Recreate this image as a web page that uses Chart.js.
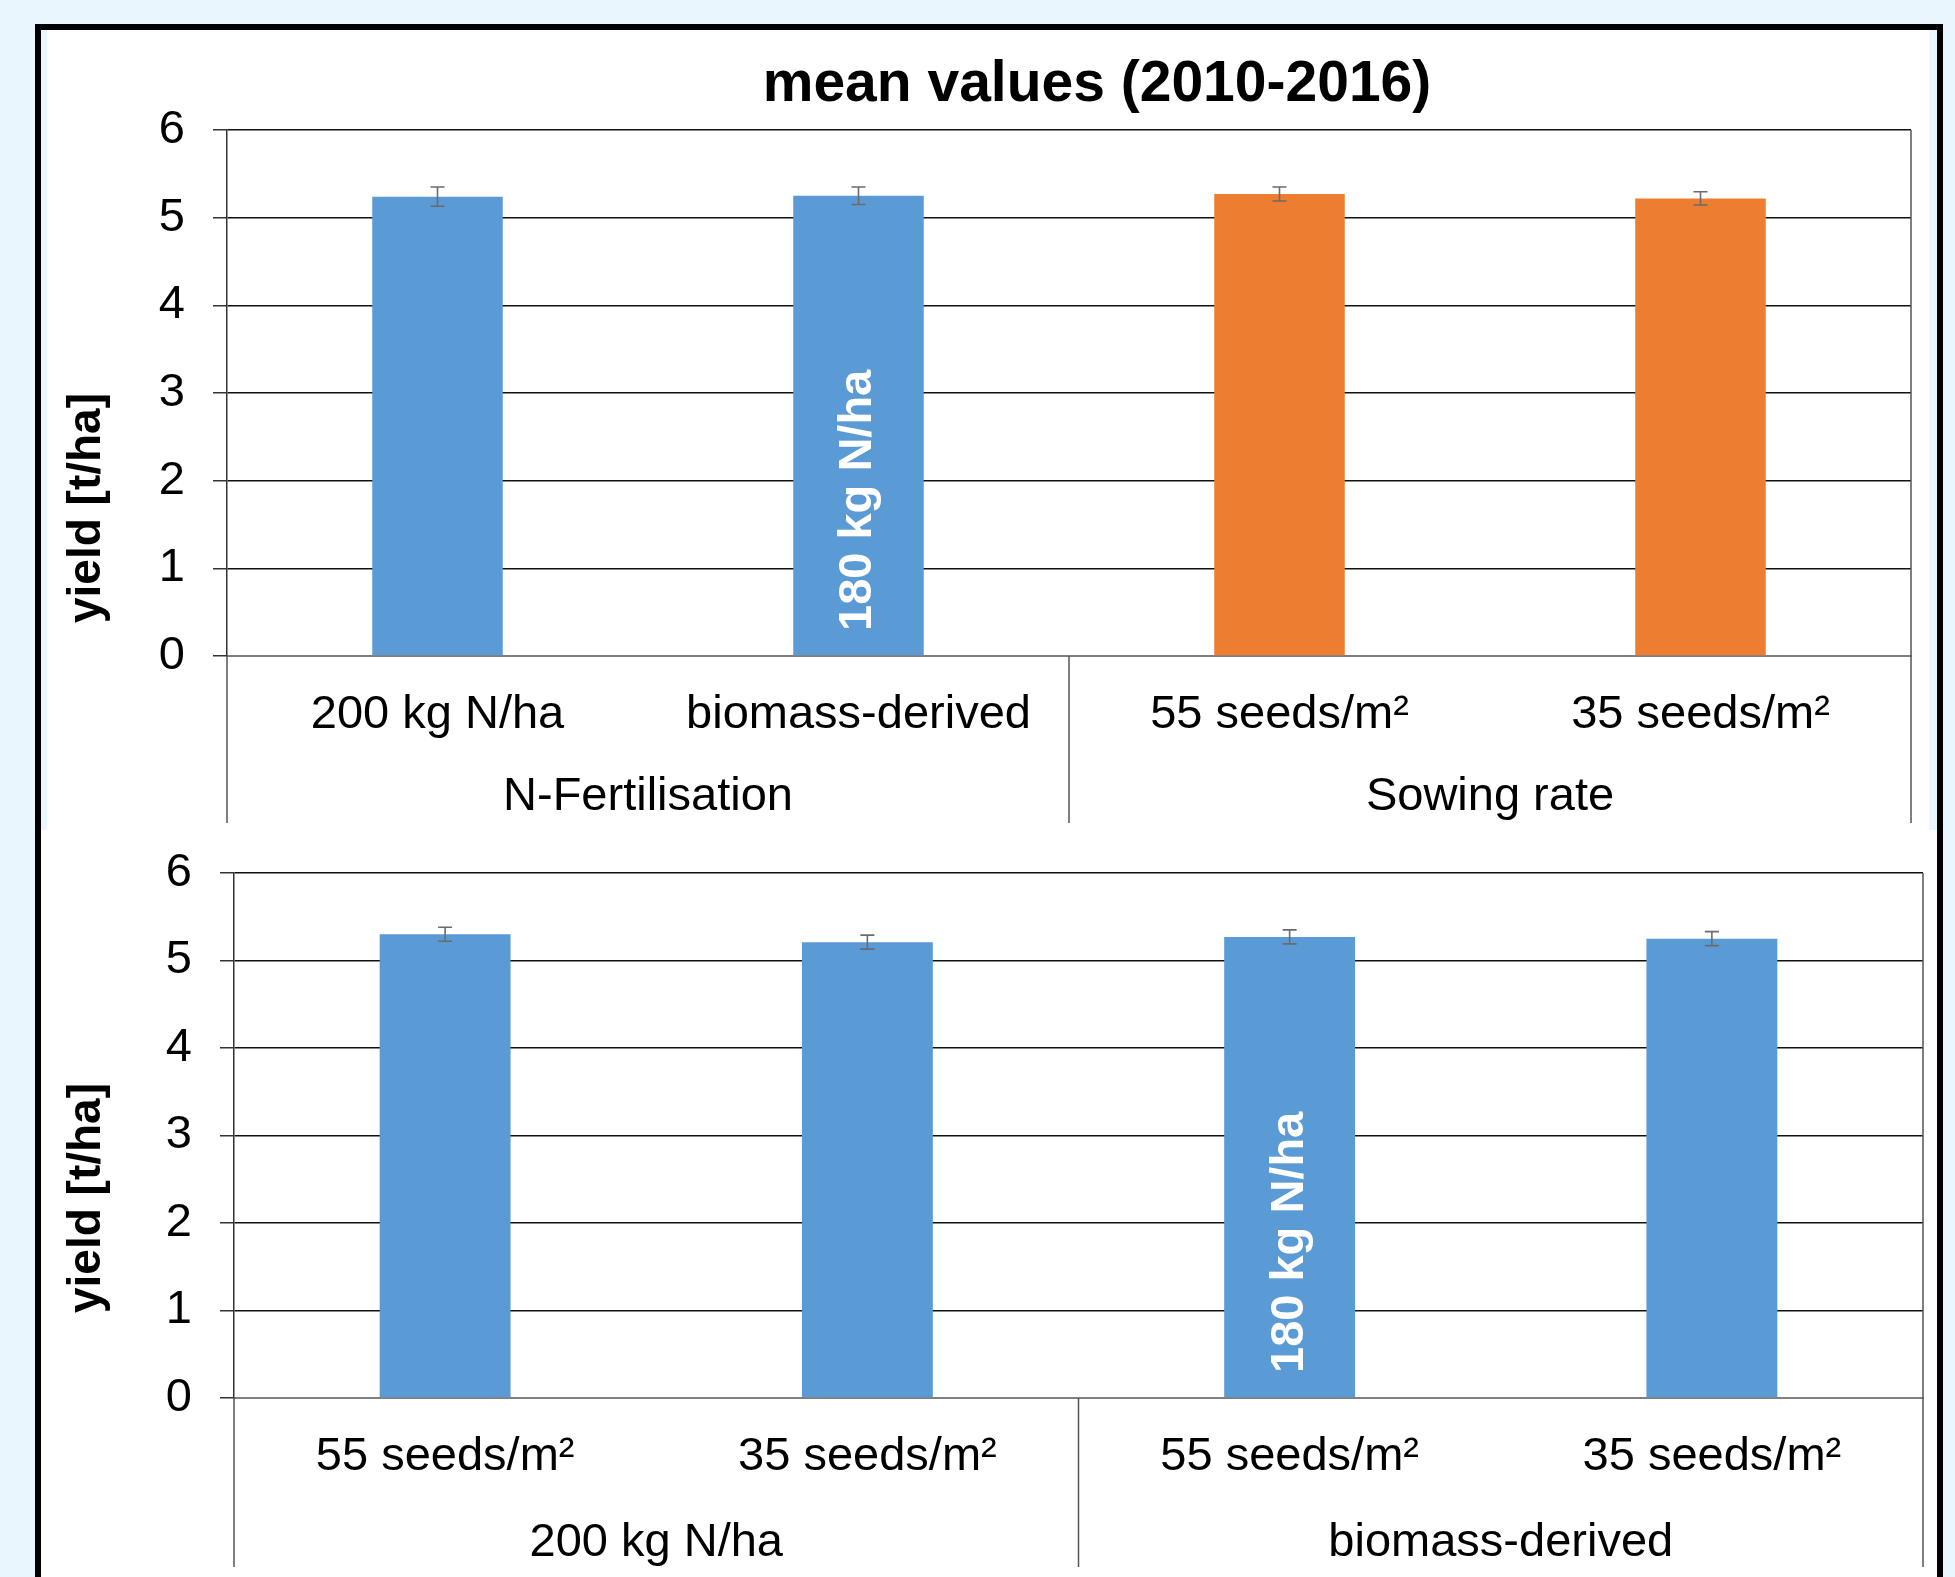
<!DOCTYPE html>
<html>
<head>
<meta charset="utf-8">
<script src="https://cdn.jsdelivr.net/npm/chart.js@4.4.0/dist/chart.umd.min.js"></script>
<style>
  body { margin: 0; width: 1955px; height: 1577px; background: #eaf6fd; position: relative; overflow: hidden; }
  #frame { position: absolute; left: 35px; top: 24px; width: 1908px; height: 1600px; border: 6px solid #000; border-bottom: none; box-sizing: border-box; }
  .panel { position: absolute; background: #fff; }
  .panel canvas { display: block; position: absolute; left: 0; }
  #panelTop { left: 47px; top: 30px; width: 1882px; height: 800px; }
  #panelTop canvas { top: 0; }
  #panelBottom { left: 41px; top: 830px; width: 1896px; height: 747px; }
  #panelBottom canvas { top: -20px; }
</style>
</head>
<body>
<div id="frame"></div>
<div class="panel" id="panelTop"><canvas id="chartTop" width="1882" height="800"></canvas></div>
<div class="panel" id="panelBottom"><canvas id="chartBottom" width="1896" height="767"></canvas></div>

<script>
// ================= DATOS =================
const yTicks = [0, 1, 2, 3, 4, 5, 6];

const topCategories = ['200 kg N/ha', 'biomass-derived', '55 seeds/m²', '35 seeds/m²'];
const topGroups     = ['N-Fertilisation', 'Sowing rate'];
const topYield      = [5.24, 5.25, 5.27, 5.22];
const topError      = [0.11, 0.10, 0.08, 0.075];

const bottomCategories = ['55 seeds/m²', '35 seeds/m²', '55 seeds/m²', '35 seeds/m²'];
const bottomGroups     = ['200 kg N/ha', 'biomass-derived'];
const bottomYield      = [5.30, 5.21, 5.27, 5.25];
const bottomError      = [0.08, 0.08, 0.08, 0.08];

// ================= ESTILO =================
const FONT   = "'Liberation Sans', Arial, Helvetica, sans-serif";
const BLUE   = '#5b9bd5';
const ORANGE = '#ed7d31';

// error bars, separators, group labels, titles
const extrasPlugin = {
    id: 'extras',
    afterDatasetsDraw(chart, args, o) {
        const ctx = chart.ctx;
        const y = chart.scales.y;
        const meta = chart.getDatasetMeta(0);
        const values = chart.data.datasets[0].data;

        ctx.save();
        ctx.strokeStyle = '#6b6b6b';
        ctx.lineWidth = 1.6;
        meta.data.forEach((bar, i) => {
            const yTop = y.getPixelForValue(values[i] + o.errors[i]);
            const yBot = y.getPixelForValue(values[i] - o.errors[i]);
            ctx.beginPath();
            ctx.moveTo(bar.x, yTop);     ctx.lineTo(bar.x, yBot);
            ctx.moveTo(bar.x - 7, yTop); ctx.lineTo(bar.x + 7, yTop);
            ctx.moveTo(bar.x - 7, yBot); ctx.lineTo(bar.x + 7, yBot);
            ctx.stroke();
        });

        // text inside one bar
        const nb = meta.data[o.note.index];
        ctx.translate(nb.x, y.getPixelForValue(0) - 25);
        ctx.rotate(-Math.PI / 2);
        ctx.fillStyle = '#fff';
        ctx.font = 'bold 47px ' + FONT;
        ctx.textAlign = 'left';
        ctx.textBaseline = 'middle';
        ctx.fillText(o.note.text, 0, 0);
        ctx.restore();
    },
    afterDraw(chart, args, o) {
        const ctx = chart.ctx;
        const x = chart.scales.x;
        const a = chart.chartArea;
        const mid = (x.getPixelForTick(1) + x.getPixelForTick(2)) / 2;

        ctx.save();
        ctx.strokeStyle = '#555';
        ctx.lineWidth = 1.5;
        ctx.beginPath();
        ctx.moveTo(a.right, a.top);   ctx.lineTo(a.right, o.sepBottom);
        ctx.moveTo(a.left, a.bottom); ctx.lineTo(a.left, o.sepBottom);
        ctx.moveTo(mid, a.bottom);    ctx.lineTo(mid, o.sepBottom);
        ctx.stroke();

        ctx.fillStyle = '#000';
        ctx.textAlign = 'center';
        ctx.textBaseline = 'middle';
        ctx.font = '47px ' + FONT;
        ctx.fillText(o.groups[0], (a.left + mid) / 2, o.groupY);
        ctx.fillText(o.groups[1], (mid + a.right) / 2, o.groupY);

        if (o.title) {
            ctx.font = 'bold 57px ' + FONT;
            ctx.fillText(o.title, o.titleX, o.titleY);
        }

        ctx.translate(o.yTitleX, o.yTitleY);
        ctx.rotate(-Math.PI / 2);
        ctx.font = 'bold 46px ' + FONT;
        ctx.fillText('yield [t/ha]', 0, 0);
        ctx.restore();
    }
};

function crearGrafica(id, categorias, valores, colores, extras, layout) {
    return new Chart(document.getElementById(id), {
        type: 'bar',
        data: {
            labels: categorias,
            datasets: [{
                data: valores,
                backgroundColor: colores,
                barPercentage: 0.31,
                categoryPercentage: 1
            }]
        },
        options: {
            responsive: false,
            animation: false,
            layout: { padding: { top: layout.top, right: layout.right, left: 0, bottom: 0 } },
            plugins: {
                legend: { display: false },
                tooltip: { enabled: false },
                extras
            },
            scales: {
                x: {
                    grid: { display: false, drawTicks: false },
                    border: { display: true, color: '#7f7f7f', width: 2 },
                    ticks: {
                        color: '#000', font: { family: FONT, size: 47 },
                        padding: 31, maxRotation: 0, autoSkip: false
                    },
                    afterFit: s => { s.height = layout.xHeight; }
                },
                y: {
                    min: yTicks[0],
                    max: yTicks[yTicks.length - 1],
                    afterBuildTicks: s => { s.ticks = yTicks.map(v => ({ value: v })); },
                    grid: {
                        color: c => c.tick && c.tick.value === 0 ? 'rgba(0,0,0,0)' : '#111',
                        lineWidth: 1.5,
                        tickLength: 14,
                        tickColor: '#333'
                    },
                    border: { display: true, color: '#333', width: 1.5 },
                    ticks: { color: '#000', font: { family: FONT, size: 47 }, padding: 28 },
                    afterFit: s => { s.width = layout.yWidth; }
                }
            }
        },
        plugins: [extrasPlugin]
    });
}

// ================= INICIO =================
crearGrafica('chartTop', topCategories, topYield, [BLUE, BLUE, ORANGE, ORANGE], {
    errors: topError,
    groups: topGroups,
    note: { index: 1, text: '180 kg N/ha' },
    title: 'mean values (2010-2016)', titleX: 1050, titleY: 55,
    yTitleX: 40, yTitleY: 478,
    groupY: 767, sepBottom: 793
}, { top: 100, right: 18, xHeight: 174, yWidth: 180 });

crearGrafica('chartBottom', bottomCategories, bottomYield, [BLUE, BLUE, BLUE, BLUE], {
    errors: bottomError,
    groups: bottomGroups,
    note: { index: 2, text: '180 kg N/ha' },
    yTitleX: 46, yTitleY: 388,
    groupY: 733, sepBottom: 757
}, { top: 63, right: 14, xHeight: 179, yWidth: 193 });
</script>
</body>
</html>
